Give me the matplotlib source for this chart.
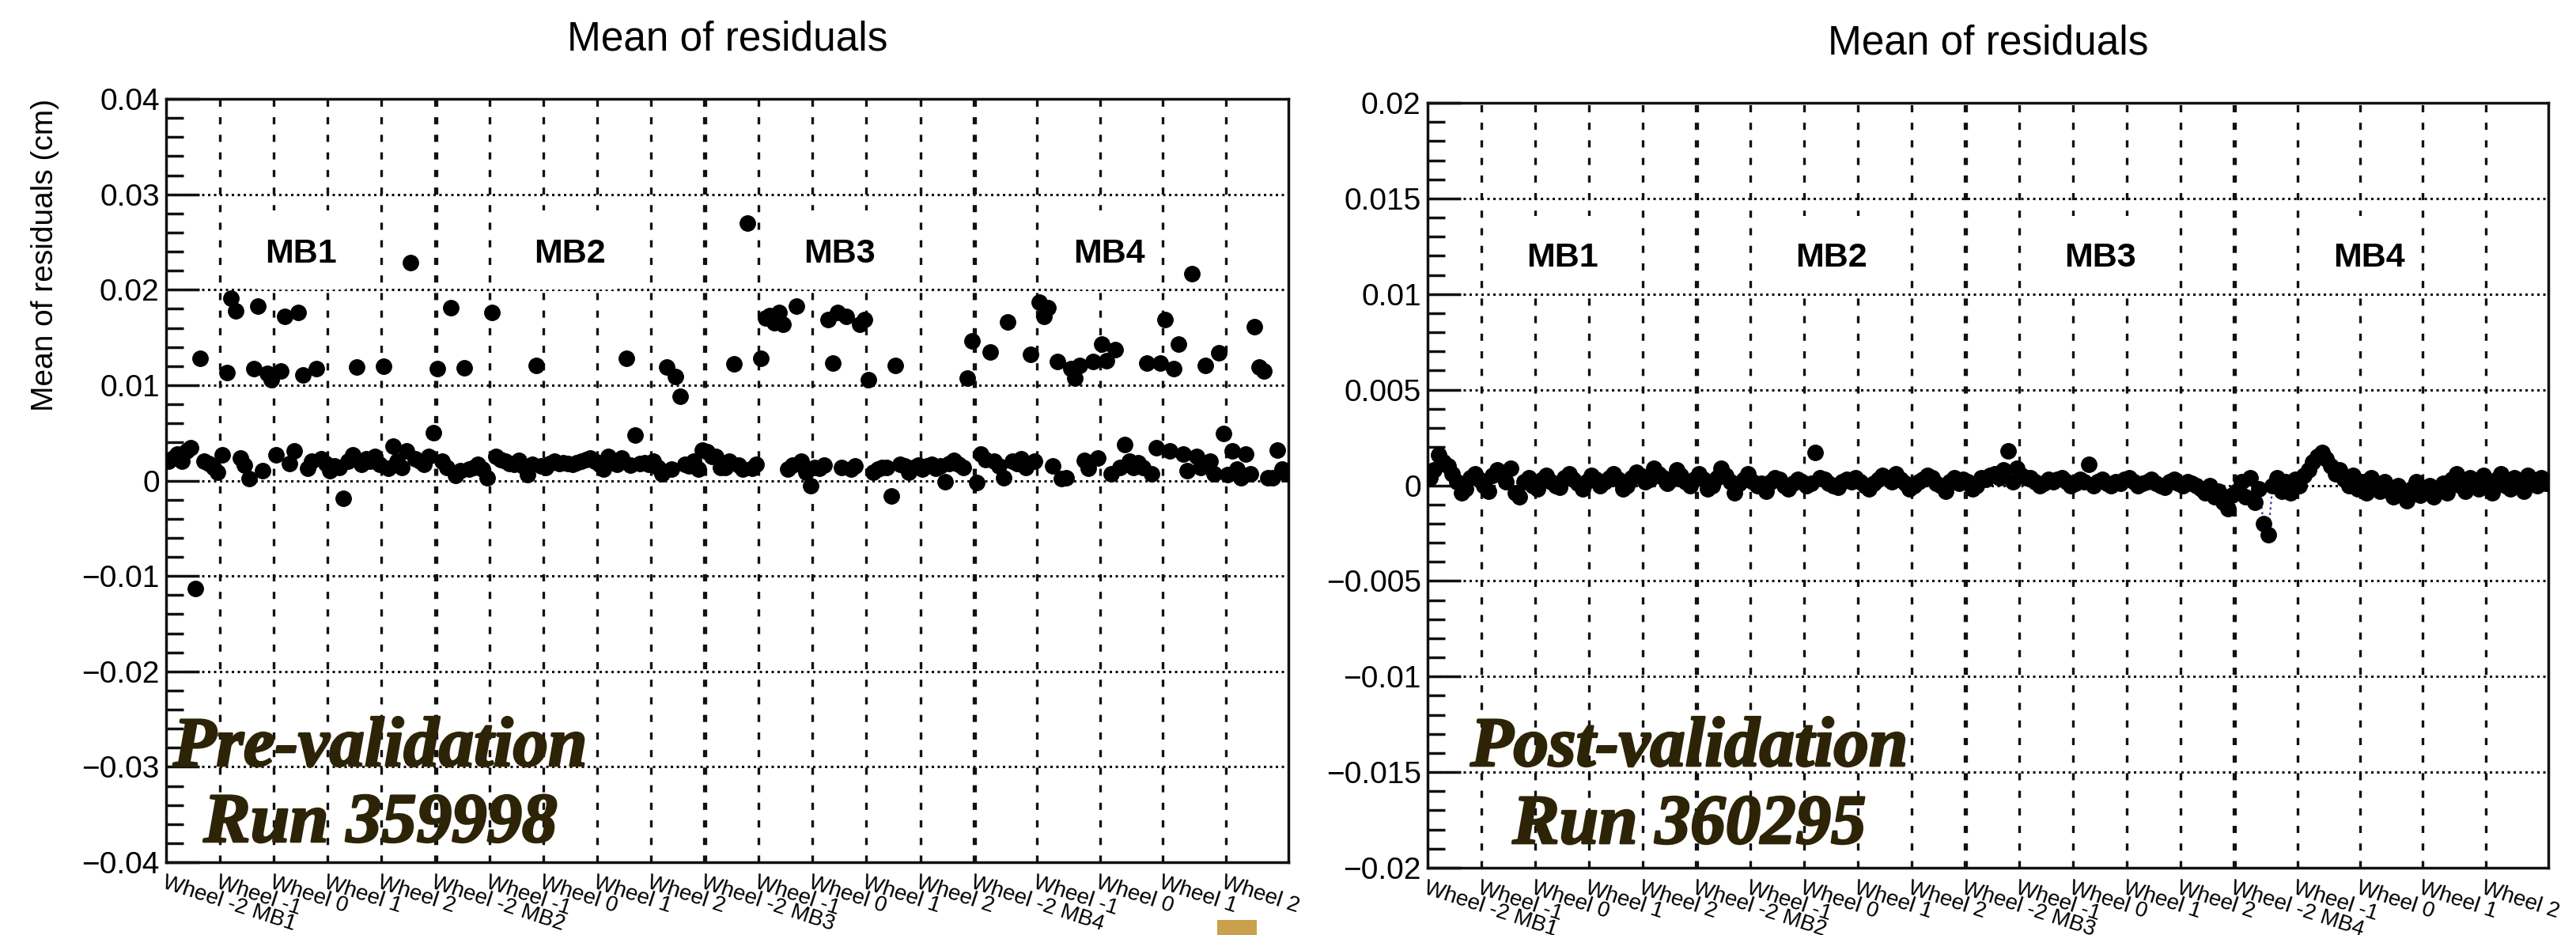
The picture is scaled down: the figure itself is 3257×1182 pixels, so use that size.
import numpy as np
import matplotlib.pyplot as plt
import matplotlib.patheffects as pe
from matplotlib.patches import Rectangle
from matplotlib.ticker import AutoMinorLocator

plt.rcParams['font.family'] = ['Liberation Sans', 'DejaVu Sans']
plt.rcParams['lines.scale_dashes'] = False

# chamber index on x: 12 sectors per wheel in MB1-MB3, 14 in MB4
wheel_ticks = [0, 12, 24, 36, 48, 60, 72, 84, 96, 108, 120, 132, 144, 156, 168,
               180, 194, 208, 222, 236]
wheel_labels = ['Wheel -2 MB1', 'Wheel -1', 'Wheel 0', 'Wheel 1', 'Wheel 2',
                'Wheel -2 MB2', 'Wheel -1', 'Wheel 0', 'Wheel 1', 'Wheel 2',
                'Wheel -2 MB3', 'Wheel -1', 'Wheel 0', 'Wheel 1', 'Wheel 2',
                'Wheel -2 MB4', 'Wheel -1', 'Wheel 0', 'Wheel 1', 'Wheel 2']
station_edges = [60, 120, 180]
station_names = ['MB1', 'MB2', 'MB3', 'MB4']
station_centres = [30, 90, 150, 210]
n_chambers = 250

# mean of residuals per chamber, in micrometres (1 um = 1e-4 cm)
pre_mb1 = [20, 24, 28, 20, 31, 34, -113, 128, 20, 18, 14, 9, 27, 113, 191, 178,
           24, 16, 2, 117, 183, 10, 112, 106, 27, 115, 172, 18, 31, 176, 111, 13,
           20, 117, 23, 18, 10, 15, 14, -19, 20, 27, 119, 17, 23, 20, 25, 17,
           120, 13, 36, 20, 14, 31, 228, 23, 20, 17, 25, 50]
pre_mb2 = [117, 20, 14, 181, 5, 10, 118, 12, 14, 17, 12, 3, 176, 25, 22, 20,
           18, 17, 21, 15, 6, 17, 121, 15, 14, 18, 20, 18, 19, 18, 17, 19, 20,
           22, 24, 20, 17, 12, 25, 20, 17, 24, 128, 16, 48, 18, 19, 17, 20, 14,
           7, 119, 12, 109, 88, 17, 15, 20, 12, 32]
pre_mb3 = [30, 25, 25, 14, 14, 20, 122, 16, 12, 270, 13, 17, 128, 170, 173, 165,
           176, 164, 12, 16, 183, 20, 9, -5, 14, 13, 16, 169, 123, 176, 14, 172,
           12, 15, 164, 169, 106, 9, 12, 14, 14, -16, 121, 17, 15, 9, 14, 16, 12,
           15, 17, 13, 15, -1, 18, 21, 17, 14, 107, 146]
pre_mb4 = [-2, 28, 22, 135, 20, 15, 3, 166, 20, 18, 23, 14, 132, 20, 187, 172,
           181, 15, 125, 2, 3, 117, 107, 121, 21, 13, 125, 24, 143, 126, 7, 137,
           14, 38, 20, 14, 19, 14, 123, 7, 34, 123, 169, 31, 117, 143, 28, 10,
           217, 25, 14, 121, 20, 7, 134, 49, 6, 31, 12, 3, 28, 7, 161, 119, 115,
           3, 3, 32, 12, 7]

post_mb1 = [4, 8, 16, 12, 10, 6, 2, -4, -2, 4, 6, 3, 0, -3, 5, 8, 6, 2, 9, -4,
            -6, 2, 4, 0, -2, 3, 5, 2, 0, -1, 4, 6, 3, 1, -2, 2, 5, 3, 0, 2, 4, 6,
            3, -2, 0, 4, 7, 5, 2, 3, 9, 6, 4, 1, 3, 8, 5, 2, 0, 3]
post_mb2 = [6, 3, -2, 0, 4, 9, 5, 2, -4, 1, 3, 6, 2, 0, 1, -3, 2, 4, 3, 0, -2, 1,
            3, 2, 0, 1, 17, 4, 3, 1, 0, -1, 2, 3, 2, 4, 2, 0, -2, 1, 3, 5, 4, 2,
            6, 3, 1, -2, 0, 2, 3, 5, 4, 1, 0, -3, 2, 4, 1, 3]
post_mb3 = [2, -2, 0, 4, 3, 5, 6, 4, 8, 18, 2, 9, 5, 4, 4, 2, 0, 1, 3, 2, 3, 4,
            2, 0, 1, 3, 2, 11, 0, 2, 3, 1, 0, 2, 1, 3, 4, 2, 0, 1, 2, 3, 1, 0, -1,
            2, 3, 1, 0, 2, 1, 0, -2, -4, 0, -6, -3, -9, -12, -5]
post_mb4 = [-3, 2, -6, 4, -9, -2, -20, -26, 0, 4, -3, 2, -4, 3, 0, 5, 8, 12, 15,
            17, 14, 10, 6, 8, 3, 0, 5, -2, 2, -4, 4, 0, -3, 2, -2, -6, 0, -4, -8,
            -2, 2, -5, -3, 0, -6, -2, 1, -4, 3, 6, 0, -3, 4, 2, -2, 5, 1, -4, 3,
            6, 0, -2, 4, 2, -3, 5, 3, 0, 4, 1]

pre_values = pre_mb1 + pre_mb2 + pre_mb3 + pre_mb4
post_values = post_mb1 + post_mb2 + post_mb3 + post_mb4

INK = '#111111'


def draw_panel(ax, values_um, ymax, ylabels, box_frac):
    x = np.arange(n_chambers) + 0.5
    y = np.array(values_um) * 1e-4
    ax.plot(x, y, 'o', color='black', ms=14, zorder=5)

    ax.set_xlim(0, n_chambers)
    ax.set_ylim(-ymax, ymax)

    # dashed vertical grid, station boundaries heavier
    for t in wheel_ticks[1:]:
        lw = 3.8 if t in station_edges else 2.4
        ax.axvline(t, color=INK, lw=lw, ls=(0, (6.5, 9.5)), zorder=1)
    yt = np.linspace(-ymax, ymax, len(ylabels))
    for v in yt[1:-1]:
        ax.axhline(v, color=INK, lw=2.2, ls=(0, (2.2, 3.2)), zorder=1)

    ax.set_yticks(yt)
    ax.set_yticklabels(ylabels)
    ax.yaxis.set_minor_locator(AutoMinorLocator(5))
    ax.tick_params(axis='y', which='major', direction='in', length=30,
                   width=2.5, labelsize=28, pad=6, color=INK)
    ax.tick_params(axis='y', which='minor', direction='in', length=16,
                   width=2.5, color=INK)
    ax.set_xticks(wheel_ticks)
    ax.set_xticklabels(wheel_labels, rotation=-18, ha='left', va='top',
                       rotation_mode='anchor', fontsize=20)
    ax.tick_params(axis='x', length=0, pad=9)
    for s in ax.spines.values():
        s.set_linewidth(2.5)
        s.set_color(INK)

    ax.set_title('Mean of residuals', fontsize=37, pad=44)

    # station labels on white boxes
    tr = ax.get_xaxis_transform()
    for c, name in zip(station_centres, station_names):
        ax.add_patch(Rectangle((c - 10, box_frac[0]), 20,
                               box_frac[1] - box_frac[0], transform=tr,
                               facecolor='white', edgecolor='none', zorder=2))
        ax.text(c, 0.797, name, transform=tr, ha='center', va='center',
                fontsize=31, fontweight='bold', zorder=3)


fig = plt.figure(figsize=(32.57, 11.82), dpi=100)

ax1 = fig.add_axes([0.06448, 0.07783, 0.43568, 0.81641])
draw_panel(ax1, pre_values, 0.04,
           ['\u22120.04', '\u22120.03', '\u22120.02', '\u22120.01', '0',
            '0.01', '0.02', '0.03', '0.04'], (0.7505, 0.854))
ax1.set_ylabel('Mean of residuals (cm)', fontsize=28, loc='top', labelpad=20)

ax2 = fig.add_axes([0.55419, 0.07191, 0.43506, 0.81810])
draw_panel(ax2, post_values, 0.02,
           ['\u22120.02', '\u22120.015', '\u22120.01', '\u22120.005', '0',
            '0.005', '0.01', '0.015', '0.02'], (0.7505, 0.852))

# MB4 chambers joined by a thin blue dotted line
mb4_x = np.arange(176, n_chambers) + 0.5
mb4_y = np.array(post_values[176:]) * 1e-4
ax2.plot(mb4_x, mb4_y, color='#2f3c9e', lw=1.6, ls=(0, (2, 3)), zorder=4)

# run annotations
serif = dict(family=['Liberation Serif', 'DejaVu Serif'], weight='bold',
             style='italic', color='#2d2408', ha='center', va='baseline',
             fontsize=64,
             path_effects=[pe.withStroke(linewidth=2, foreground='#2d2408')])
fig.text(481 / 3257, 1 - 968 / 1182, 'Pre-validation', **serif)
fig.text(481 / 3257, 1 - 1064 / 1182, 'Run 359998', **serif)
fig.text(2136 / 3257, 1 - 968 / 1182, 'Post-validation', **serif)
fig.text(2136 / 3257, 1 - 1066 / 1182, 'Run 360295', **serif)

fig.patches.append(Rectangle((1539 / 3257, 0), 50 / 3257, 19 / 1182,
                             transform=fig.transFigure, facecolor='#c9a04c',
                             edgecolor='none'))

fig.savefig('out.png', dpi=100)
